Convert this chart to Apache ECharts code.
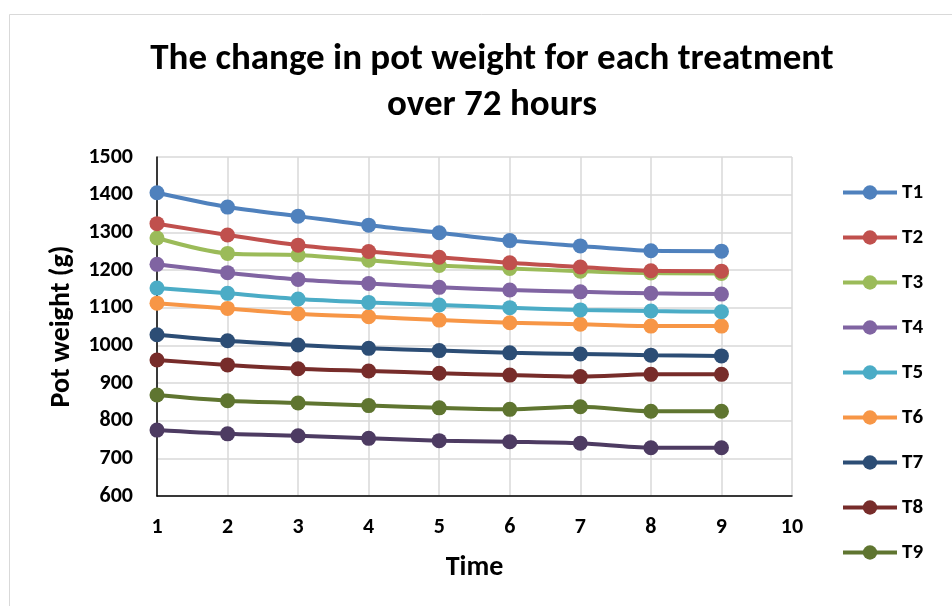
<!DOCTYPE html>
<html>
<head>
<meta charset="utf-8">
<title>Pot weight change</title>
<script src="https://cdn.jsdelivr.net/npm/echarts@6/dist/echarts.min.js"></script>
<style>
  html, body { margin: 0; padding: 0; background: #ffffff; }
  #chart { width: 952px; height: 606px; }
</style>
</head>
<body>
<div id="chart"></div>
<script>
// Measurement times (x) and pot weight in grams for each treatment
const times = [1, 2, 3, 4, 5, 6, 7, 8, 9];
const T1  = [1405, 1367, 1343, 1319, 1299, 1278, 1264, 1251, 1250];
const T2  = [1323, 1293, 1266, 1249, 1234, 1219, 1208, 1198, 1197];
const T3  = [1285, 1244, 1240, 1226, 1212, 1204, 1197, 1192, 1191];
const T4  = [1215, 1193, 1175, 1164, 1154, 1147, 1142, 1138, 1136];
const T5  = [1152, 1138, 1123, 1114, 1107, 1100, 1094, 1091, 1089];
const T6  = [1112, 1098, 1084, 1076, 1067, 1060, 1056, 1051, 1051];
const T7  = [1028, 1012, 1001, 992, 986, 980, 977, 974, 972];
const T8  = [961, 948, 938, 932, 926, 921, 917, 923, 923];
const T9  = [868, 853, 847, 840, 834, 830, 837, 825, 825];
const T10 = [775, 765, 760, 753, 747, 744, 740, 728, 728];

const seriesNames = ['T1', 'T2', 'T3', 'T4', 'T5', 'T6', 'T7', 'T8', 'T9', 'T10'];
const seriesValues = [T1, T2, T3, T4, T5, T6, T7, T8, T9, T10];
const legendNames = ['T1', 'T2', 'T3', 'T4', 'T5', 'T6', 'T7', 'T8', 'T9'];
const colors = ['#4F81BD', '#C0504D', '#9BBB59', '#8064A2', '#4BACC6',
                '#F79646', '#2C4D75', '#772C2A', '#5F7530', '#4D3B62'];

const titleText = 'The change in pot weight for each treatment\nover 72 hours';
const xName = 'Time';
const yName = 'Pot weight (g)';

const font = 'Calibri, Carlito, "Open Sans", "Liberation Sans", sans-serif';

const chart = echarts.init(document.getElementById('chart'), null, { renderer: 'canvas' });

const series = seriesNames.map((name, i) => ({
  name: name,
  type: 'line',
  data: times.map((t, j) => [t, seriesValues[i][j]]),
  smooth: 0.3,
  symbol: 'circle',
  symbolSize: 15,
  lineStyle: { width: 4, color: colors[i] },
  itemStyle: { color: colors[i] },
  z: 2 + (seriesNames.length - i)
}));

chart.setOption({
  animation: false,
  backgroundColor: '#ffffff',
  color: colors,
  graphic: [{
    type: 'rect',
    shape: { x: 9.5, y: 14.5, width: 960, height: 620 },
    style: { fill: 'none', stroke: '#D9D9D9', lineWidth: 1 },
    silent: true,
    z: -10
  }],
  title: {
    text: titleText,
    left: 487,
    top: 32,
    textAlign: 'center',
    textStyle: {
      fontFamily: font,
      fontWeight: 'bold',
      fontSize: 37,
      lineHeight: 46,
      color: '#000000'
    }
  },
  legend: {
    data: legendNames,
    orient: 'vertical',
    left: 836,
    top: 177,
    itemWidth: 54,
    itemHeight: 18,
    itemGap: 24,
    lineStyle: { width: 4 },
    textStyle: {
      fontFamily: font,
      fontWeight: 'bold',
      fontSize: 21,
      color: '#000000'
    }
  },
  grid: {
    left: 157,
    right: 952 - 792,
    top: 157,
    bottom: 606 - 496,
    containLabel: false
  },
  xAxis: {
    type: 'value',
    min: 1,
    max: 10,
    interval: 1,
    name: xName,
    nameLocation: 'middle',
    nameGap: 58,
    nameTextStyle: { fontFamily: font, fontWeight: 'bold', fontSize: 28, color: '#000000' },
    axisLine: { show: true, onZero: false, lineStyle: { color: '#000000', width: 1.5 } },
    axisTick: { show: false },
    axisLabel: { fontFamily: font, fontWeight: 'bold', fontSize: 22, color: '#000000', margin: 20 },
    splitLine: { show: true, lineStyle: { color: '#D9D9D9', width: 1.5 } }
  },
  yAxis: {
    type: 'value',
    min: 600,
    max: 1500,
    interval: 100,
    name: yName,
    nameLocation: 'middle',
    nameGap: 81,
    nameTextStyle: { fontFamily: font, fontWeight: 'bold', fontSize: 28, color: '#000000' },
    axisLine: { show: true, lineStyle: { color: '#000000', width: 1.5 } },
    axisTick: { show: false },
    axisLabel: {
      fontFamily: font, fontWeight: 'bold', fontSize: 22, color: '#000000', margin: 24,
      formatter: (v) => String(v)
    },
    splitLine: { show: true, lineStyle: { color: '#D9D9D9', width: 1.5 } }
  },
  series: series
});
</script>
</body>
</html>
